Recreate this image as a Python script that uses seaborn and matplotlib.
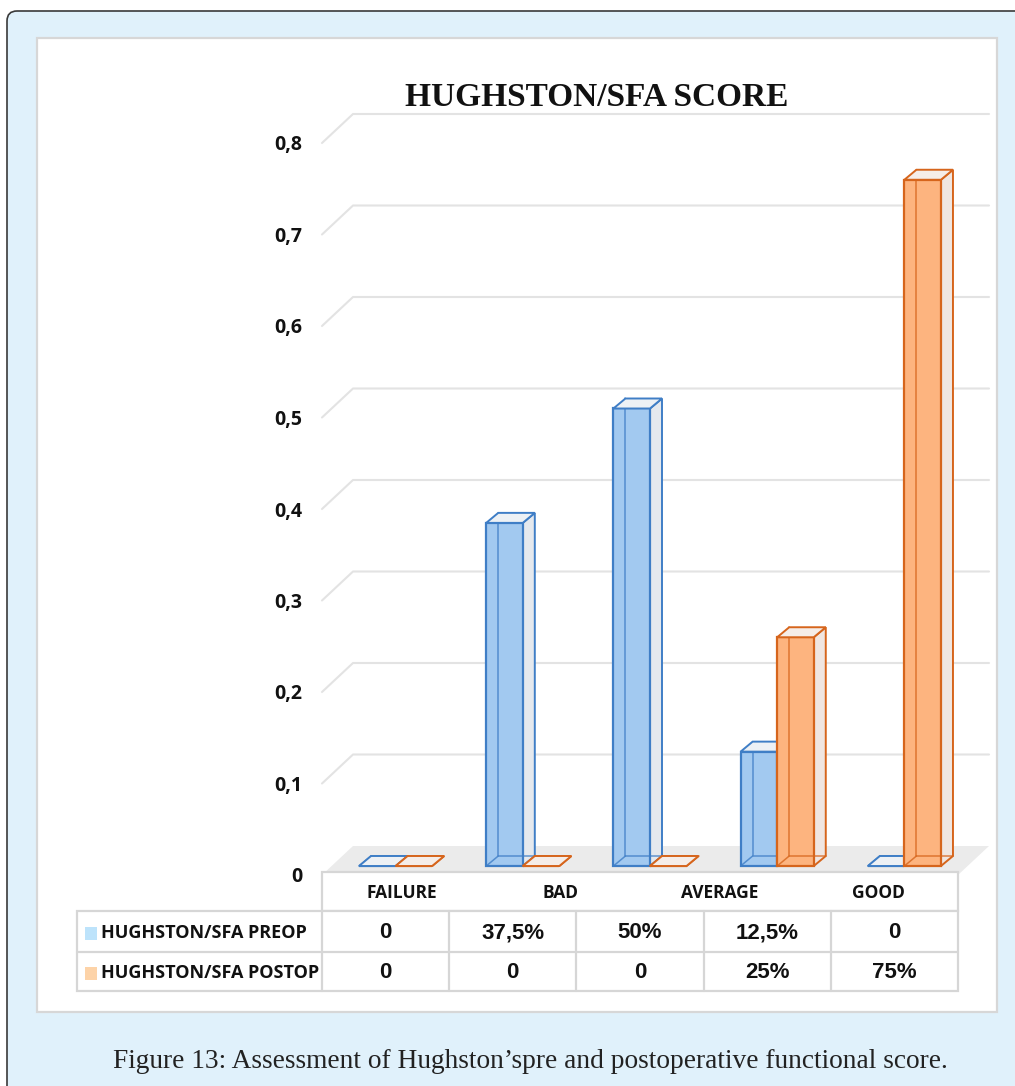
import numpy as np
import pandas as pd
import matplotlib
matplotlib.use("Agg")
import matplotlib.pyplot as plt
import matplotlib.patches as mpatches
import matplotlib.lines as mlines
import matplotlib.transforms as mtransforms
from matplotlib import font_manager
from matplotlib.colors import to_rgb
import seaborn as sns

# data
columns = ["1", "2", "3", "4", "5"]
header_labels = ["FAILURE", "BAD", "AVERAGE", "GOOD"]
series = ["HUGHSTON/SFA PREOP", "HUGHSTON/SFA POSTOP"]
preop = [0, 0.375, 0.5, 0.125, 0]
postop = [0, 0, 0, 0.25, 0.75]
y_ticks = [0, 0.1, 0.2, 0.3, 0.4, 0.5, 0.6, 0.7, 0.8]
title = "HUGHSTON/SFA SCORE"
caption = "Figure 13: Assessment of Hughston\u2019spre and postoperative functional score."

# styles
front_fill = ["#a2c9f0", "#fdb47f"]
edge_col = ["#3f7ec6", "#d6651c"]
side_fill = ["#e5e9ee", "#f0e6e1"]
top_fill = ["#edf1f5", "#f5ede8"]
legend_sq = ["#bde3fb", "#fdd3a8"]
grid_col = "#e3e3e3"
line_col = "#d6d6d6"

W, H = 1015, 1086
ident = mtransforms.IdentityTransform()

names = {f.name for f in font_manager.fontManager.ttflist}
narrow = "Liberation Sans Narrow" if "Liberation Sans Narrow" in names else "Liberation Sans"


def fmt_pct(v):
    if v == 0:
        return "0"
    return f"{v * 100:g}%".replace(".", ",")


def fmt_tick(v):
    return f"{v:g}".replace(".", ",")


sns.set_theme(style="white")
plt.rcParams["font.family"] = ["Open Sans", "DejaVu Sans"]

fig = plt.figure(figsize=(W / 100, H / 100), dpi=100, facecolor="white")

# outer frame and white panel
fig.add_artist(mpatches.FancyBboxPatch((7, -40), 1100, (H - 11) + 40,
                                       boxstyle="round,pad=0,rounding_size=10",
                                       fc="#e0f1fb", ec="#3a3a3a", lw=1.2,
                                       transform=ident, zorder=-3))
fig.add_artist(mpatches.Rectangle((37, H - 1012), 960, 1012 - 38, fc="white",
                                  ec="#d7d7d7", lw=1.6, transform=ident, zorder=-2))

ax = fig.add_axes([322 / W, 1 - 875 / H, 636 / W, 732 / H])
ax.set_facecolor("none")

df = pd.DataFrame({
    "col": columns * 2,
    "value": preop + postop,
    "series": [series[0]] * len(columns) + [series[1]] * len(columns),
})

sns.barplot(data=df, x="col", y="value", hue="series", order=columns,
            hue_order=series, palette=front_fill, width=0.575, saturation=1,
            legend=False, ax=ax)

ax.set_xlim(-0.5, len(columns) - 0.5)
ax.set_ylim(0, 0.8)

sx = (len(columns)) / 636
sy = 0.8 / 732


def d(px, py):
    return px * sx, py * sy


ox, oy = d(10, 9)     # bar plane offset
bx, by = d(12, 10)    # bar depth
gx, gy = d(31, 29)    # wall depth

# back wall gridlines
x_left, x_right = ax.get_xlim()
for v in y_ticks[1:]:
    ax.plot([x_left, x_left + gx, x_right + gx], [v, v + gy, v + gy],
            color=grid_col, lw=1.5, clip_on=False, zorder=0.5)

# floor
ax.add_patch(mpatches.Polygon([(x_left, 0), (x_right, 0), (x_right + gx, gy), (x_left + gx, gy)],
                              closed=True, fc="#ebebeb", ec="none", clip_on=False, zorder=0.6))

# 3D-look bars
for bar in list(ax.patches):
    if not isinstance(bar, mpatches.Rectangle):
        continue
    fc = to_rgb(bar.get_facecolor()[:3])
    s = 0 if np.allclose(fc, to_rgb(front_fill[0]), atol=0.02) else 1
    x, w, h = bar.get_x(), bar.get_width(), bar.get_height()
    x0, y0 = x + ox, oy
    x1, y1 = x0 + w, h + oy
    z = 2 + s * 3
    bar.set_x(x0)
    bar.set_y(y0)
    bar.set_edgecolor(edge_col[s])
    bar.set_linewidth(1.6)
    bar.set_zorder(z + 0.5)
    bar.set_clip_on(False)
    # side face
    ax.add_patch(mpatches.Polygon([(x1, y0), (x1 + bx, y0 + by), (x1 + bx, y1 + by), (x1, y1)],
                                  closed=True, fc=side_fill[s], ec=edge_col[s], lw=1.4,
                                  clip_on=False, zorder=z))
    # back edges
    ax.plot([x0 + bx, x0 + bx, x1 + bx], [y1 + by, y0 + by, y0 + by],
            color=edge_col[s], lw=1.1, alpha=0.8, clip_on=False, zorder=z + 0.7)
    ax.plot([x0, x0 + bx], [y0, y0 + by], color=edge_col[s], lw=1.1, alpha=0.8,
            clip_on=False, zorder=z + 0.7)
    # top face
    ax.add_patch(mpatches.Polygon([(x0, y1), (x1, y1), (x1 + bx, y1 + by), (x0 + bx, y1 + by)],
                                  closed=True, fc=top_fill[s], ec=edge_col[s], lw=1.4,
                                  clip_on=False, zorder=z + 1))

ax.set_yticks(y_ticks)
ax.set_yticklabels([fmt_tick(v) for v in y_ticks], fontsize=14, fontweight="bold")
ax.tick_params(axis="y", length=0, pad=14, colors="#111111")
ax.set_xticks([])
ax.set_xlabel("")
ax.set_ylabel("")
sns.despine(ax=ax, left=True, bottom=True)

# title
fig.text(597, H - 98, title, transform=ident, ha="center", va="center",
         family=["Liberation Serif"], fontweight="bold", fontsize=24, color="#111111")

# data table
fig.canvas.draw()
col_edges = [ax.transData.transform((i - 0.5, 0))[0] for i in range(len(columns) + 1)]
col_centers = [ax.transData.transform((i, 0))[0] for i in range(len(columns))]
tab_left, tab_right = col_edges[0], col_edges[-1]
head_top, head_bot, row_mid, row_bot = 872, 911, 952, 991
leg_left = 77


def Y(y):
    return H - y


fig.add_artist(mpatches.Rectangle((tab_left, Y(head_bot)), tab_right - tab_left, head_bot - head_top,
                                  fc="white", ec=line_col, lw=1.6, transform=ident, zorder=2))
fig.add_artist(mpatches.Rectangle((leg_left, Y(row_bot)), tab_right - leg_left, row_bot - head_bot,
                                  fc="white", ec=line_col, lw=1.6, transform=ident, zorder=2))
fig.add_artist(mlines.Line2D([leg_left, tab_right], [Y(row_mid), Y(row_mid)], color=line_col,
                             lw=1.6, transform=ident, zorder=3))
for xe in col_edges[:-1]:
    fig.add_artist(mlines.Line2D([xe, xe], [Y(head_bot), Y(row_bot)], color=line_col,
                                 lw=1.6, transform=ident, zorder=3))

n_head = len(header_labels)
for j, lab in enumerate(header_labels):
    xc = tab_left + (tab_right - tab_left) * (j + 0.5) / n_head
    fig.text(xc, Y((head_top + head_bot) / 2 + 2), lab, transform=ident, ha="center",
             va="center", fontsize=12.5, fontweight="bold", color="#111111", zorder=4)

row_centers = [(head_bot + row_mid) / 2, (row_mid + row_bot) / 2]
for s, vals in enumerate([preop, postop]):
    yc = Y(row_centers[s] + 1)
    fig.add_artist(mpatches.Rectangle((85, yc - 7), 12, 13, fc=legend_sq[s], ec="none",
                                      transform=ident, zorder=4))
    fig.text(101, yc, series[s], transform=ident, ha="left", va="center",
             fontsize=13, fontweight="bold", color="#111111", zorder=4)
    for i, v in enumerate(vals):
        fig.text(col_centers[i], yc, fmt_pct(v), transform=ident, ha="center", va="center",
                 family=[narrow], fontsize=16, fontweight="bold", color="#111111", zorder=4)

# caption
fig.text(530, Y(1062), caption, transform=ident, ha="center", va="center",
         family=["Liberation Serif"], fontsize=19.7, color="#222222")

fig.savefig("out.png", dpi=100, facecolor=fig.get_facecolor())
